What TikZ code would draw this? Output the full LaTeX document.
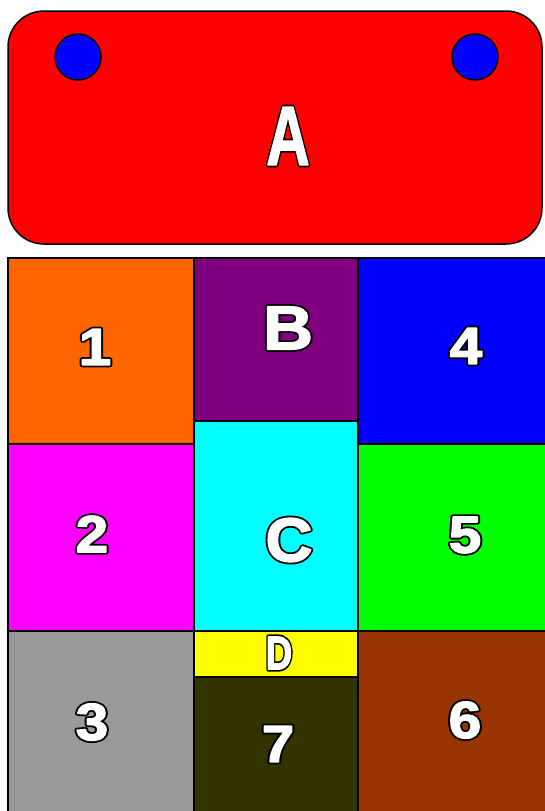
\documentclass[tikz,border=0pt]{standalone}
\usepackage{fontspec}
\setmainfont{Liberation Sans}
\definecolor{cOne}{HTML}{FF6600}
\definecolor{cB}{HTML}{800080}
\definecolor{cFour}{HTML}{0000FF}
\definecolor{cTwo}{HTML}{FF00FF}
\definecolor{cC}{HTML}{00FFFF}
\definecolor{cFive}{HTML}{00FF00}
\definecolor{cThree}{HTML}{999999}
\definecolor{cD}{HTML}{FFFF00}
\definecolor{cSeven}{HTML}{333300}
\definecolor{cSix}{HTML}{993300}
\newcommand{\outl}[1]{\rlap{\special{pdf:literal direct 1 Tr 5 w 1 j 0 0 0 RG}#1\special{pdf:literal direct 0 Tr 0.4 w}}\special{pdf:literal direct 2 Tr 1.4 w 1 j 1 1 1 RG}#1\special{pdf:literal direct 0 Tr 0.4 w 0 0 0 RG}}
\tikzset{
  cell/.style={draw=black,line width=1.5pt,anchor=north west,inner sep=0pt,outer sep=0pt},
  lab/.style={inner sep=0pt,text=white},
  digit/.style={lab,font=\fontsize{52}{52}\selectfont\bfseries},
  hole/.style={circle,draw=black,line width=1.5pt,fill=cFour,minimum size=46pt,inner sep=0pt}
}
\begin{document}
\begin{tikzpicture}[x=1pt,y=-1pt]
\useasboundingbox (0,0) rectangle (544,811);
\fill[white] (0,0) rectangle (544,811);
% top plate
\draw[line width=1.5pt,fill=red,rounded corners=36pt] (8,11) rectangle (542,244);
\node[hole] (h1) at (78,57) {};
\node[hole] (h2) at (475,57) {};
% grid cells
\node[cell,fill=cOne,minimum width=186pt,minimum height=186pt] (k1) at (8,258) {};
\node[cell,fill=cB,minimum width=164pt,minimum height=163pt] (kB) at (194,258) {};
\node[cell,fill=cFour,minimum width=192pt,minimum height=186pt] (k4) at (358,258) {};
\node[cell,fill=cTwo,minimum width=186pt,minimum height=187pt] (k2) at (8,444) {};
\node[cell,fill=cC,minimum width=164pt,minimum height=210pt] (kC) at (194,421) {};
\node[cell,fill=cFive,minimum width=192pt,minimum height=187pt] (k5) at (358,444) {};
\node[cell,fill=cThree,minimum width=186pt,minimum height=192pt] (k3) at (8,631) {};
\node[cell,fill=cD,minimum width=164pt,minimum height=46pt] (kD) at (194,631) {};
\node[cell,fill=cSeven,minimum width=164pt,minimum height=146pt] (k7) at (194,677) {};
\node[cell,fill=cSix,minimum width=192pt,minimum height=192pt] (k6) at (358,631) {};
% labels
\node[lab,font=\fontsize{84}{84}\selectfont\bfseries] (lA) at (288,136) {\scalebox{0.72}[1]{\outl{A}}};
\node[digit] (l1) at (95,347) {\scalebox{1.12}[1]{\outl{1}}};
\node[digit] (l2) at (92,534) {\scalebox{1.12}[1]{\outl{2}}};
\node[digit] (l3) at (92,722) {\scalebox{1.12}[1]{\outl{3}}};
\node[digit] (l4) at (466,346) {\scalebox{1.12}[1]{\outl{4}}};
\node[digit] (l5) at (465,535) {\scalebox{1.12}[1]{\outl{5}}};
\node[digit] (l6) at (465,720) {\scalebox{1.12}[1]{\outl{6}}};
\node[digit] (l7) at (278,744) {\scalebox{1.12}[1]{\outl{7}}};
\node[lab,font=\fontsize{62}{62}\selectfont\bfseries] (lB) at (288,328) {\scalebox{1.12}[1]{\outl{B}}};
\node[lab,font=\fontsize{62}{62}\selectfont\bfseries] (lC) at (289,540) {\scalebox{1.05}[1]{\outl{C}}};
\node[lab,font=\fontsize{47}{47}\selectfont\bfseries] (lD) at (279,653) {\scalebox{0.78}[1]{\outl{D}}};
\end{tikzpicture}
\end{document}
